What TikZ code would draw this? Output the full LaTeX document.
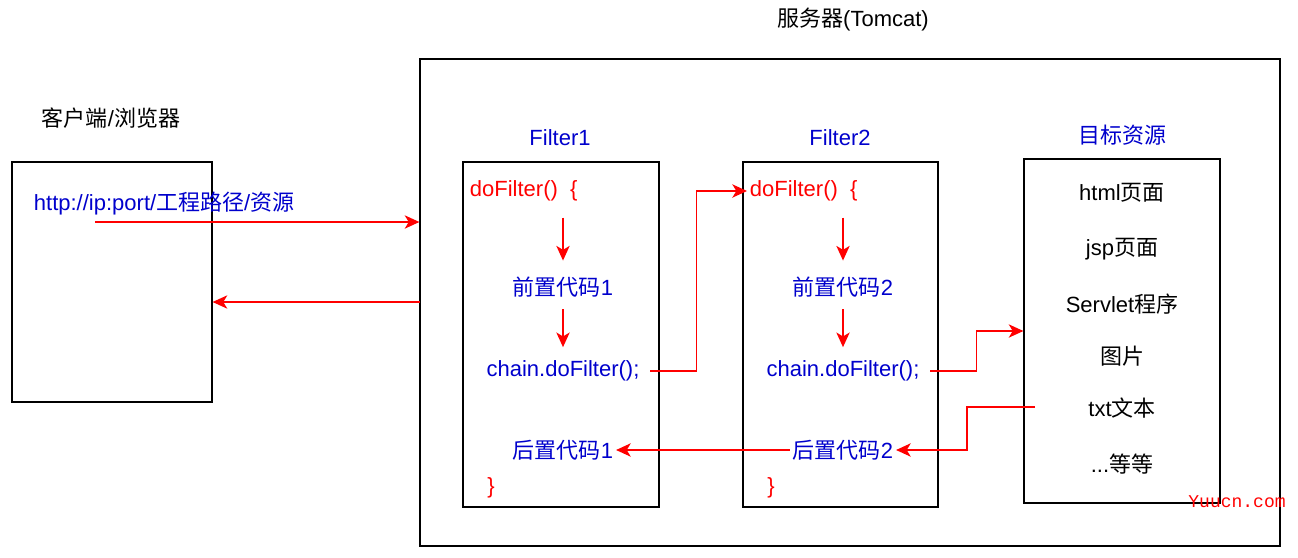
\documentclass[tikz,border=0pt]{standalone}
\usepackage{fontspec}
\setmainfont{Liberation Sans}
\newfontfamily\cjk{Noto Sans CJK SC}
\newfontfamily\wmfont{Liberation Mono}
\usepackage{xcolor}
\usetikzlibrary{arrows.meta}
\usetikzlibrary{positioning}
\definecolor{codeblue}{RGB}{0,0,204}

\begin{document}
\begin{tikzpicture}[x=0.75pt,y=-0.75pt]
  \tikzset{box/.style = {shape=rectangle,draw,line width=0.9pt,inner sep=0pt}}
  \tikzset{txt/.style = {inner sep=2pt,font=\fontsize{16.5}{20}\selectfont}}
  \tikzset{code/.style = {txt,text=codeblue}}
  \tikzset{kw/.style = {txt,text=red}}
  \tikzset{edge/.style = {draw=red,line width=1.1pt,-{Stealth[length=11pt,width=10pt,inset=3pt]}}}

  \useasboundingbox (0,0) rectangle (1298,557);

  % boxes
  \node[box,minimum width=645pt,minimum height=365.25pt] (server) at (850,302.5) {};
  \node[box,minimum width=150pt,minimum height=180pt] (client) at (112,282) {};
  \node[box,minimum width=147pt,minimum height=258.75pt] (filterA) at (561,334.5) {};
  \node[box,minimum width=146.25pt,minimum height=258.75pt] (filterB) at (840.5,334.5) {};
  \node[box,minimum width=147pt,minimum height=258pt] (target) at (1122,331) {};

  % titles
  \node[txt] (serverT) at (853,20) {{\cjk 服务器}(Tomcat)};
  \node[txt] (clientT) at (111,118) {{\cjk 客户端}/{\cjk 浏览器}};
  \node[code] (filterAT) at (560,138) {Filter1};
  \node[code] (filterBT) at (840,138) {Filter2};
  \node[code] (targetT) at (1122,135) {\cjk 目标资源};

  \node[code,anchor=west] (url) at (31,204) {http://ip:port/{\cjk 工程路径}/{\cjk 资源}};

  % filter 1
  \node[kw,anchor=west] (doA) at (467,191) {doFilter()\ \ \{};
  \node[code] (preA) at (563,287) {{\cjk 前置代码}1};
  \node[code] (chainA) at (563,371) {chain.doFilter();};
  \node[code] (postA) at (563,450) {{\cjk 后置代码}1};
  \node[kw] (endA) at (491,488) {\}};

  % filter 2
  \node[kw,anchor=west] (doB) at (747,191) {doFilter()\ \ \{};
  \node[code] (preB) at (843,287) {{\cjk 前置代码}2};
  \node[code] (chainB) at (843,371) {chain.doFilter();};
  \node[code] (postB) at (843,450) {{\cjk 后置代码}2};
  \node[kw] (endB) at (771,488) {\}};

  % resources
  \foreach \nm/\y/\lbl in {r1/193/html{\cjk 页面}, r2/249/jsp{\cjk 页面}, r3/304/Servlet{\cjk 程序},
                           r4/356/{\cjk 图片}, r5/408/txt{\cjk 文本}, r6/464/.{}.{}.{\cjk 等等}}
    \node[txt] (\nm) at (1122,\y) {\lbl};

  \node[text=red,inner sep=0pt,font=\wmfont\fontsize{13.5}{15}\selectfont] (mark) at (1237,502) {Yuucn.com};

  \coordinate (req) at (95,222);
  \coordinate (resp) at (420,302);
  \coordinate (ret) at (1035,407);

  \path[edge] (req) -- (req -| server.west);
  \path[edge] (resp) -- (resp -| client.east);

  \path[edge,shorten <=10pt,shorten >=10pt] (doA.south -| preA.north) -- (preA.north);
  \path[edge,shorten <=7pt,shorten >=8pt] (preA.south) -- (chainA.north);
  \path[edge,shorten <=10pt,shorten >=10pt] (doB.south -| preB.north) -- (preB.north);
  \path[edge,shorten <=7pt,shorten >=8pt] (preB.south) -- (chainB.north);

  \path[edge,shorten <=6pt] (chainA.east) -- +(54,0) |- (doB.west);
  \path[edge,shorten <=6pt] (chainB.east) -- +(54,0) |- (target.west);
  \path[edge] (ret) -- +(-68,0) |- (postB.east);
  \path[edge] (postB.west) -- (postA.east);

\end{tikzpicture}
\end{document}
